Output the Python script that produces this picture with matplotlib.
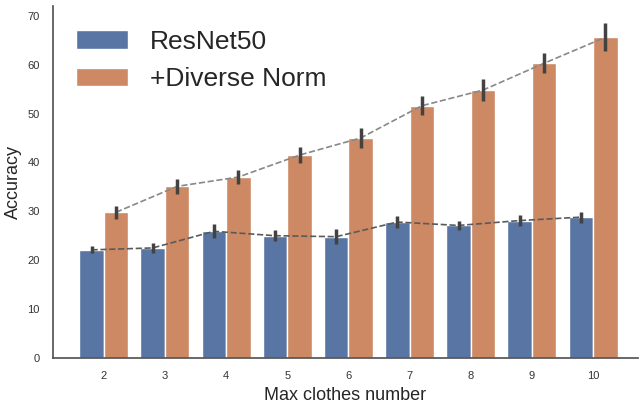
import matplotlib
matplotlib.use("Agg")
import matplotlib.pyplot as plt
import numpy as np
import seaborn as sns

clothes = [2, 3, 4, 5, 6, 7, 8, 9, 10]
resnet = [22.1, 22.5, 25.9, 25.0, 24.8, 27.8, 27.1, 28.1, 28.8]
resnet_err = [0.7, 1.1, 1.4, 1.1, 1.5, 1.3, 1.0, 1.2, 1.1]
diverse = [29.8, 35.1, 37.0, 41.5, 45.0, 51.6, 54.8, 60.3, 65.6]
diverse_err = [1.3, 1.6, 1.4, 1.7, 2.0, 1.9, 2.3, 2.0, 2.9]

sns.set_theme(style="white")
plt.rcParams["font.family"] = ["Liberation Sans", "DejaVu Sans"]

deep = sns.color_palette("deep")
c_blue = sns.desaturate(deep[0], 0.75)
c_orange = sns.desaturate(deep[1], 0.75)

fig = plt.figure(figsize=(6.39, 4.03), dpi=100)
ax = fig.add_axes([0.083, 0.112, 0.915, 0.873])

x = np.arange(len(clothes))
w = 0.4
ax.bar(x - w / 2, resnet, w, color=c_blue, edgecolor="white", linewidth=1, label="ResNet50")
ax.bar(x + w / 2, diverse, w, color=c_orange, edgecolor="white", linewidth=1, label="+Diverse Norm")

ax.plot(x - w / 2, resnet, ls="--", color="#5a5a5a", lw=1.2, zorder=3)
ax.plot(x + w / 2, diverse, ls="--", color="#888888", lw=1.2, zorder=3)

ax.errorbar(x - w / 2, resnet, yerr=resnet_err, fmt="none", ecolor="#424242", elinewidth=2.5, zorder=4)
ax.errorbar(x + w / 2, diverse, yerr=diverse_err, fmt="none", ecolor="#424242", elinewidth=2.5, zorder=4)

ax.set_xticks(x)
ax.set_xticklabels(clothes)
ax.set_xlim(-0.83, 8.73)
ax.set_ylim(0, 72)
ax.set_yticks(range(0, 71, 10))
ax.tick_params(labelsize=8, labelcolor="#333333")
ax.set_xlabel("Max clothes number", fontsize=13)
ax.set_ylabel("Accuracy", fontsize=13)
sns.despine(ax=ax)
for side in ("left", "bottom"):
    ax.spines[side].set_color("#555555")

ax.legend(loc="upper left", fontsize=19, frameon=False, bbox_to_anchor=(-0.002, 1.0))

fig.savefig("out.png", dpi=100)
